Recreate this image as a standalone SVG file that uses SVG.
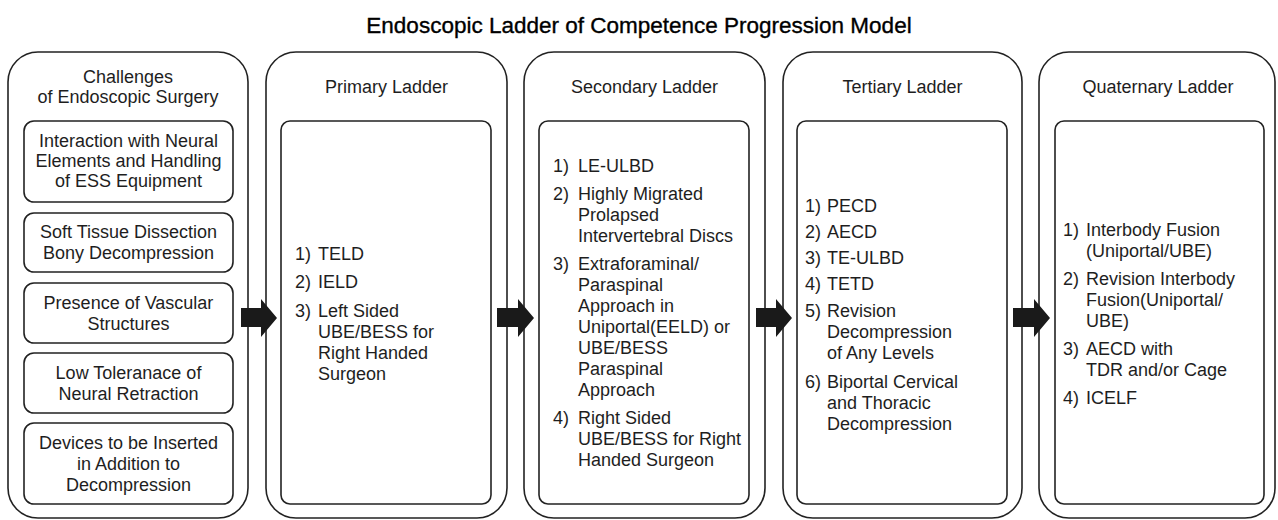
<svg xmlns="http://www.w3.org/2000/svg" width="1278" height="520" viewBox="0 0 1278 520">
<style>
.outer{fill:#fff;stroke:#222;stroke-width:1.6}
.inner{fill:#fff;stroke:#222;stroke-width:1.6}
text{font-family:"Liberation Sans",Arial,sans-serif;font-size:18px;fill:#1e1e1e}
.c{text-anchor:middle}
.title{font-size:22.5px;fill:#000;stroke:#000;stroke-width:0.35}
.arrow{fill:#1a1a1a;stroke:none}
</style>
<rect width="1278" height="520" fill="#fff"/>
<text class="title c" x="639" y="33">Endoscopic Ladder of Competence Progression Model</text>

<g id="challenges">
<rect class="outer" x="8" y="52" width="240" height="466" rx="30"/>
<text class="c" x="128" y="83">Challenges</text>
<text class="c" x="128" y="103">of Endoscopic Surgery</text>
<rect class="inner" x="24" y="121" width="209" height="81" rx="10"/>
<text class="c" x="128.5" y="147">Interaction with Neural</text>
<text class="c" x="128.5" y="167">Elements and Handling</text>
<text class="c" x="128.5" y="187">of ESS Equipment</text>
<rect class="inner" x="24" y="213" width="209" height="59" rx="10"/>
<text class="c" x="128.5" y="238">Soft Tissue Dissection</text>
<text class="c" x="128.5" y="259">Bony Decompression</text>
<rect class="inner" x="24" y="283" width="209" height="60" rx="10"/>
<text class="c" x="128.5" y="309">Presence of Vascular</text>
<text class="c" x="128.5" y="330">Structures</text>
<rect class="inner" x="24" y="353" width="209" height="60" rx="10"/>
<text class="c" x="128.5" y="379">Low Toleranace of</text>
<text class="c" x="128.5" y="400">Neural Retraction</text>
<rect class="inner" x="24" y="423" width="209" height="81" rx="10"/>
<text class="c" x="128.5" y="449">Devices to be Inserted</text>
<text class="c" x="128.5" y="470">in Addition to</text>
<text class="c" x="128.5" y="491">Decompression</text>
</g>

<g id="primary">
<rect class="outer" x="266" y="52" width="241" height="466" rx="30"/>
<text class="c" x="386.5" y="93">Primary Ladder</text>
<rect class="inner" x="281" y="121" width="210" height="383" rx="9"/>
<text x="295" y="260">1)</text><text x="318" y="260">TELD</text>
<text x="295" y="288">2)</text><text x="318" y="288">IELD</text>
<text x="295" y="317">3)</text><text x="318" y="317">Left Sided</text>
<text x="318" y="338">UBE/BESS for</text>
<text x="318" y="359">Right Handed</text>
<text x="318" y="380">Surgeon</text>
</g>

<g id="secondary">
<rect class="outer" x="524" y="52" width="241" height="466" rx="30"/>
<text class="c" x="644.5" y="93">Secondary Ladder</text>
<rect class="inner" x="539" y="121" width="210" height="383" rx="9"/>
<text x="553" y="172">1)</text><text x="578" y="172">LE-ULBD</text>
<text x="553" y="200">2)</text><text x="578" y="200">Highly Migrated</text>
<text x="578" y="221">Prolapsed</text>
<text x="578" y="242">Intervertebral Discs</text>
<text x="553" y="270">3)</text><text x="578" y="270">Extraforaminal/</text>
<text x="578" y="291">Paraspinal</text>
<text x="578" y="312">Approach in</text>
<text x="578" y="333">Uniportal(EELD) or</text>
<text x="578" y="354">UBE/BESS</text>
<text x="578" y="375">Paraspinal</text>
<text x="578" y="396">Approach</text>
<text x="553" y="424">4)</text><text x="578" y="424">Right Sided</text>
<text x="578" y="445">UBE/BESS for Right</text>
<text x="578" y="466">Handed Surgeon</text>
</g>

<g id="tertiary">
<rect class="outer" x="783" y="52" width="239" height="466" rx="30"/>
<text class="c" x="902.5" y="93">Tertiary Ladder</text>
<rect class="inner" x="797" y="121" width="210" height="383" rx="9"/>
<text x="805" y="212">1)</text><text x="827" y="212">PECD</text>
<text x="805" y="238">2)</text><text x="827" y="238">AECD</text>
<text x="805" y="264">3)</text><text x="827" y="264">TE-ULBD</text>
<text x="805" y="290">4)</text><text x="827" y="290">TETD</text>
<text x="805" y="317">5)</text><text x="827" y="317">Revision</text>
<text x="827" y="338">Decompression</text>
<text x="827" y="359">of Any Levels</text>
<text x="805" y="388">6)</text><text x="827" y="388">Biportal Cervical</text>
<text x="827" y="409">and Thoracic</text>
<text x="827" y="430">Decompression</text>
</g>

<g id="quaternary">
<rect class="outer" x="1039" y="52" width="236" height="466" rx="30"/>
<text class="c" x="1158" y="93">Quaternary Ladder</text>
<rect class="inner" x="1055" y="121" width="209" height="383" rx="9"/>
<text x="1063" y="236">1)</text><text x="1086" y="236">Interbody Fusion</text>
<text x="1086" y="257">(Uniportal/UBE)</text>
<text x="1063" y="285">2)</text><text x="1086" y="285">Revision Interbody</text>
<text x="1086" y="306">Fusion(Uniportal/</text>
<text x="1086" y="327">UBE)</text>
<text x="1063" y="355">3)</text><text x="1086" y="355">AECD with</text>
<text x="1086" y="376">TDR and/or Cage</text>
<text x="1063" y="404">4)</text><text x="1086" y="404">ICELF</text>
</g>

<g id="connectors">
<path class="arrow" d="M241,308 H261 V299 L277,318 L261,337 V327 H241 Z"/>
<path class="arrow" d="M497,308 H518 V299 L534,318 L518,337 V327 H497 Z"/>
<path class="arrow" d="M756,308 H776 V299 L792,318 L776,337 V327 H756 Z"/>
<path class="arrow" d="M1013,308 H1034 V299 L1050,318 L1034,337 V327 H1013 Z"/>
</g>
</svg>
